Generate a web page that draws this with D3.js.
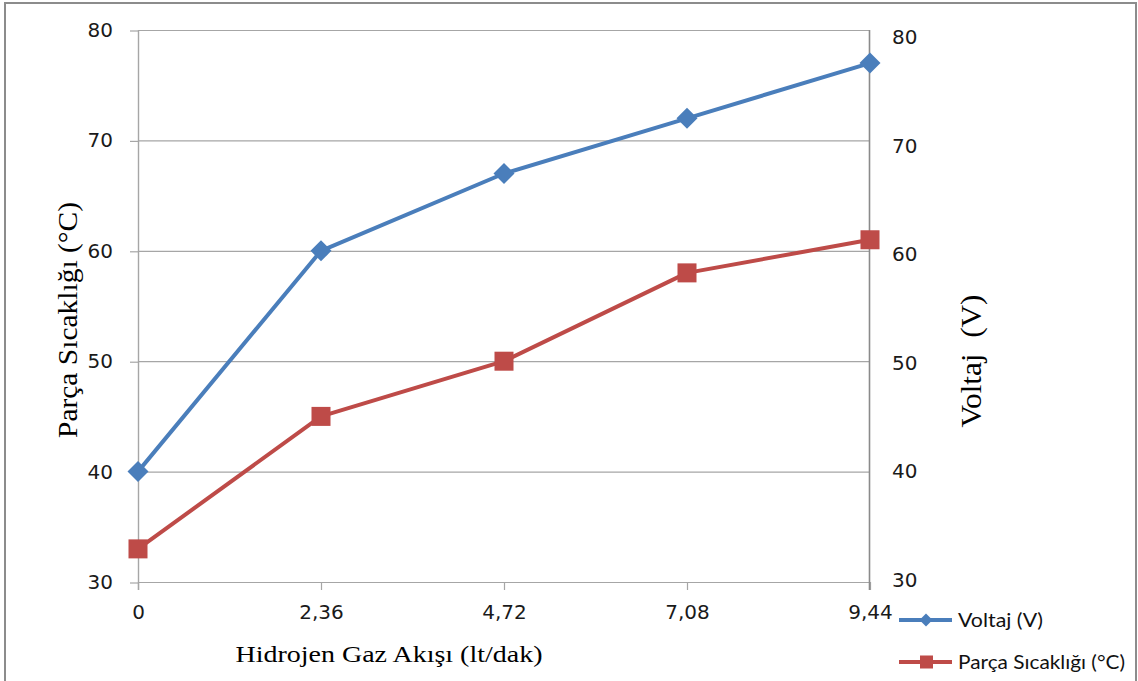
<!DOCTYPE html>
<html>
<head>
<meta charset="utf-8">
<script src="https://cdn.jsdelivr.net/npm/d3@7"></script>
<style>
  html, body { margin: 0; padding: 0; background: #fff; }
  svg { display: block; }
</style>
</head>
<body>
<svg id="chart" width="1138" height="681"></svg>
<script>
// ---- data ----
const categories = ["0", "2,36", "4,72", "7,08", "9,44"];
const voltaj = [40, 60, 67, 72, 77];          // Voltaj (V)
const sicaklik = [33, 45, 50, 58, 61];        // Parça Sıcaklığı (°C)
const leftTicks = [30, 40, 50, 60, 70, 80];
const rightTicks = [30, 40, 50, 60, 70, 80];
const seriesNames = ["Voltaj (V)", "Parça Sıcaklığı (°C)"];
const xTitle = "Hidrojen Gaz Akışı (lt/dak)";
const yLeftTitle = "Parça Sıcaklığı (°C)";
const yRightTitle = "Voltaj  (V)";

// ---- layout ----
const svg = d3.select("#chart");
const W = 1138, H = 681;
const plot = { left: 138, right: 870, top: 30, bottom: 582 };
const blue = "#4a7ebb", red = "#be4b48";
const gridCol = "#a6a6a6", axisCol = "#8a8a8a";
const tickFont = "'DejaVu Sans', Verdana, sans-serif";
const serif = "'Liberation Serif', 'Times New Roman', serif";

svg.append("rect").attr("width", W).attr("height", H).attr("fill", "#fff");
// outer frame
svg.append("rect").attr("x", 5).attr("y", 3).attr("width", 1131).attr("height", 700)
  .attr("fill", "none").attr("stroke", "#8c8c8c").attr("stroke-width", 2);

const x = d3.scalePoint().domain(categories).range([plot.left, plot.right]).padding(0);
const y = d3.scaleLinear().domain([30, 80]).range([plot.bottom, plot.top]);
const yR = d3.scaleLinear().domain([30, 80]).range([580, 37]);

// gridlines
svg.append("g").selectAll("line").data(leftTicks).join("line")
  .attr("x1", plot.left).attr("x2", plot.right)
  .attr("y1", d => y(d) + 0.5).attr("y2", d => y(d) + 0.5)
  .attr("stroke", gridCol).attr("stroke-width", 1.2);

// left axis
const gL = svg.append("g").attr("transform", `translate(${plot.left},0)`)
  .call(d3.axisLeft(y).tickValues(leftTicks).tickSize(8).tickPadding(17).tickFormat(d3.format("d")));
gL.select(".domain").remove();
gL.selectAll(".tick line").attr("stroke", gridCol).attr("stroke-width", 1.2).attr("transform", "translate(0,0.5)");
gL.selectAll(".tick text").attr("font-family", tickFont).attr("font-size", 20).attr("fill", "#1a1a1a");
svg.append("line").attr("x1", plot.left + 0.5).attr("x2", plot.left + 0.5)
  .attr("y1", plot.top).attr("y2", plot.bottom + 8).attr("stroke", gridCol).attr("stroke-width", 1.4);

// bottom axis
const gB = svg.append("g").attr("transform", `translate(0,${plot.bottom})`)
  .call(d3.axisBottom(x).tickSize(8).tickPadding(15));
gB.select(".domain").remove();
gB.selectAll(".tick line").attr("stroke", gridCol).attr("stroke-width", 1.2);
gB.selectAll(".tick text").attr("font-family", tickFont).attr("font-size", 20).attr("fill", "#1a1a1a");

// right axis
svg.append("line").attr("x1", plot.right - 0.5).attr("x2", plot.right - 0.5)
  .attr("y1", plot.top).attr("y2", plot.bottom + 8).attr("stroke", axisCol).attr("stroke-width", 1.6);
const gR = svg.append("g").attr("transform", `translate(${plot.right},0)`)
  .call(d3.axisRight(yR).tickValues(rightTicks).tickSize(0).tickPadding(22).tickFormat(d3.format("d")));
gR.select(".domain").remove();
gR.selectAll(".tick text").attr("font-family", tickFont).attr("font-size", 20).attr("fill", "#1a1a1a");

// axis titles
svg.append("text").attr("x", 389).attr("y", 662).attr("font-family", serif).attr("font-size", 24)
  .attr("text-anchor", "middle").attr("textLength", 307).attr("lengthAdjust", "spacingAndGlyphs")
  .attr("fill", "#000").text(xTitle);
svg.append("text").attr("transform", "translate(77,320) rotate(-90)")
  .attr("font-family", serif).attr("font-size", 28).attr("text-anchor", "middle")
  .attr("textLength", 236).attr("lengthAdjust", "spacingAndGlyphs").attr("fill", "#000").text(yLeftTitle);
svg.append("text").attr("transform", "translate(981,361) rotate(-90)")
  .attr("font-family", serif).attr("font-size", 29).attr("text-anchor", "middle")
  .attr("textLength", 133).attr("lengthAdjust", "spacingAndGlyphs").attr("fill", "#000")
  .attr("xml:space", "preserve").style("white-space", "pre").text(yRightTitle);

// lines
const line = d3.line().x((d, i) => x(categories[i])).y(d => y(d));
svg.append("path").datum(sicaklik).attr("d", line).attr("fill", "none")
  .attr("stroke", red).attr("stroke-width", 4).attr("stroke-linejoin", "round");
svg.append("path").datum(voltaj).attr("d", line).attr("fill", "none")
  .attr("stroke", blue).attr("stroke-width", 4).attr("stroke-linejoin", "round");

// markers
const sq = 19;
svg.append("g").selectAll("rect").data(sicaklik).join("rect")
  .attr("x", (d, i) => x(categories[i]) - sq / 2).attr("y", d => y(d) - sq / 2)
  .attr("width", sq).attr("height", sq).attr("fill", red);
const dm = 10.5;
svg.append("g").selectAll("path").data(voltaj).join("path")
  .attr("d", (d, i) => {
    const cx = x(categories[i]), cy = y(d);
    return `M${cx},${cy - dm}L${cx + dm},${cy}L${cx},${cy + dm}L${cx - dm},${cy}Z`;
  })
  .attr("fill", blue);

// legend
const legFont = "Lato, 'Open Sans', sans-serif";
const legY = [620, 662];
const legColors = [blue, red];
seriesNames.forEach((name, i) => {
  const g = svg.append("g");
  g.append("line").attr("x1", 899).attr("x2", 952).attr("y1", legY[i]).attr("y2", legY[i])
    .attr("stroke", legColors[i]).attr("stroke-width", 4);
  if (i === 0) {
    const s = 6.5, cx = 926, cy = legY[i];
    g.append("path").attr("d", `M${cx},${cy - s}L${cx + s},${cy}L${cx},${cy + s}L${cx - s},${cy}Z`).attr("fill", blue);
  } else {
    g.append("rect").attr("x", 920).attr("y", legY[i] - 6.5).attr("width", 13).attr("height", 13).attr("fill", red);
  }
  g.append("text").attr("x", 958).attr("y", legY[i] + 7).attr("font-family", legFont)
    .attr("font-size", 20).attr("fill", "#111")
    .attr("textLength", i === 0 ? 85 : 167).attr("lengthAdjust", "spacingAndGlyphs").text(name);
});
</script>
</body>
</html>
